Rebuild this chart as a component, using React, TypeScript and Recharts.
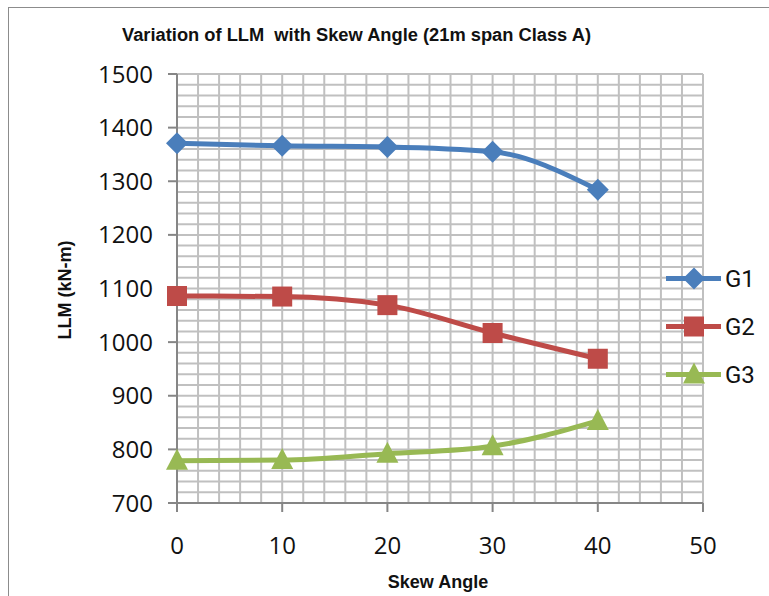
import { LineChart, Line, XAxis, YAxis, CartesianGrid } from 'recharts';

const skewAngles = [0, 10, 20, 30, 40];
const g1Values = [1371, 1366, 1364, 1355, 1284];
const g2Values = [1086, 1085, 1069, 1017, 969];
const g3Values = [779, 780, 792, 806, 853];

const xTicks = [0, 10, 20, 30, 40, 50];
const yTicks = [700, 800, 900, 1000, 1100, 1200, 1300, 1400, 1500];

// minor gridlines: every 2 on x, every 20 on y
const xGrid = Array.from({ length: 26 }, (_, i) => i * 2);
const yGrid = Array.from({ length: 41 }, (_, i) => 700 + i * 20);

const SERIES = [
  { key: 'G1', color: '#4A7EBB', marker: 'diamond' },
  { key: 'G2', color: '#BE4B48', marker: 'square' },
  { key: 'G3', color: '#98B954', marker: 'triangle' },
];

const data = skewAngles.map((angle, i) => ({
  angle,
  G1: g1Values[i],
  G2: g2Values[i],
  G3: g3Values[i],
}));

const LABEL_FONT = '"Liberation Sans", Arial, sans-serif';
const TICK_FONT = '"Open Sans", "Noto Sans", sans-serif';

function Marker({ cx, cy, type, color }: { cx: number; cy: number; type: string; color: string }) {
  if (cx == null || cy == null) return null;
  if (type === 'diamond') {
    const r = 11;
    return <polygon points={`${cx},${cy - r} ${cx + r},${cy} ${cx},${cy + r} ${cx - r},${cy}`} fill={color} />;
  }
  if (type === 'square') {
    return <rect x={cx - 10} y={cy - 10} width={20} height={20} fill={color} />;
  }
  return <polygon points={`${cx},${cy - 12} ${cx + 11},${cy + 9} ${cx - 11},${cy + 9}`} fill={color} />;
}

function ChartLegend() {
  return (
    <div style={{ position: 'absolute', left: 666, top: 264, display: 'flex', flexDirection: 'column', gap: 19 }}>
      {SERIES.map((s) => (
        <div key={s.key} style={{ display: 'flex', alignItems: 'center', height: 29 }}>
          <svg width={56} height={29}>
            <line x1={0} y1={14.5} x2={55} y2={14.5} stroke={s.color} strokeWidth={5} />
            <Marker cx={28} cy={14.5} type={s.marker} color={s.color} />
          </svg>
          <span style={{ fontFamily: '"Roboto", sans-serif', fontSize: 24, color: '#111', marginLeft: 3 }}>{s.key}</span>
        </div>
      ))}
    </div>
  );
}

export default function App() {
  return (
    <div style={{ position: 'relative', width: 769, height: 596, background: '#fff', overflow: 'hidden' }}>
      <style>{'body{margin:0}'}</style>
      <div
        style={{
          position: 'absolute',
          left: 8,
          top: 7,
          width: 800,
          height: 640,
          border: '1px solid #8c8c8c',
          boxSizing: 'border-box',
        }}
      />
      <div
        style={{
          position: 'absolute',
          left: 122,
          top: 24,
          fontFamily: LABEL_FONT,
          fontWeight: 'bold',
          fontSize: 18.3,
          color: '#111',
          whiteSpace: 'pre',
        }}
      >
        {'Variation of LLM  with Skew Angle (21m span Class A)'}
      </div>
      <div
        style={{
          position: 'absolute',
          left: 65,
          top: 290,
          transform: 'translate(-50%, -50%) rotate(-90deg)',
          fontFamily: LABEL_FONT,
          fontWeight: 'bold',
          fontSize: 18,
          color: '#111',
          whiteSpace: 'nowrap',
        }}
      >
        LLM (kN-m)
      </div>
      <div
        style={{
          position: 'absolute',
          left: 438,
          top: 582,
          transform: 'translate(-50%, -50%)',
          fontFamily: LABEL_FONT,
          fontWeight: 'bold',
          fontSize: 18,
          color: '#111',
          whiteSpace: 'nowrap',
        }}
      >
        Skew Angle
      </div>
      <div style={{ position: 'absolute', left: 0, top: 0 }}>
        <LineChart width={769} height={596} data={data} margin={{ top: 74, right: 66, bottom: 0, left: 0 }}>
          <CartesianGrid
            stroke="#c0c0c0"
            strokeWidth={2}
            verticalValues={xGrid}
            horizontalValues={yGrid}
          />
          <XAxis
            dataKey="angle"
            type="number"
            domain={[0, 50]}
            ticks={xTicks}
            interval={0}
            stroke="#868686"
            strokeWidth={2}
            tickSize={9}
            tickMargin={25}
            tick={{ fill: '#111', fontSize: 24, fontFamily: TICK_FONT }}
            height={93}
          />
          <YAxis
            type="number"
            domain={[700, 1500]}
            ticks={yTicks}
            interval={0}
            width={177}
            stroke="#868686"
            strokeWidth={2}
            tickSize={9}
            tickMargin={15}
            tick={{ fill: '#111', fontSize: 24, fontFamily: TICK_FONT }}
          />
          {SERIES.map((s) => (
            <Line
              key={s.key}
              dataKey={s.key}
              type="monotone"
              stroke={s.color}
              strokeWidth={5}
              isAnimationActive={false}
              dot={(props: any) => (
                <Marker key={`${s.key}-${props.index}`} cx={props.cx} cy={props.cy} type={s.marker} color={s.color} />
              )}
              activeDot={false}
            />
          ))}
        </LineChart>
      </div>
      <ChartLegend />
    </div>
  );
}
